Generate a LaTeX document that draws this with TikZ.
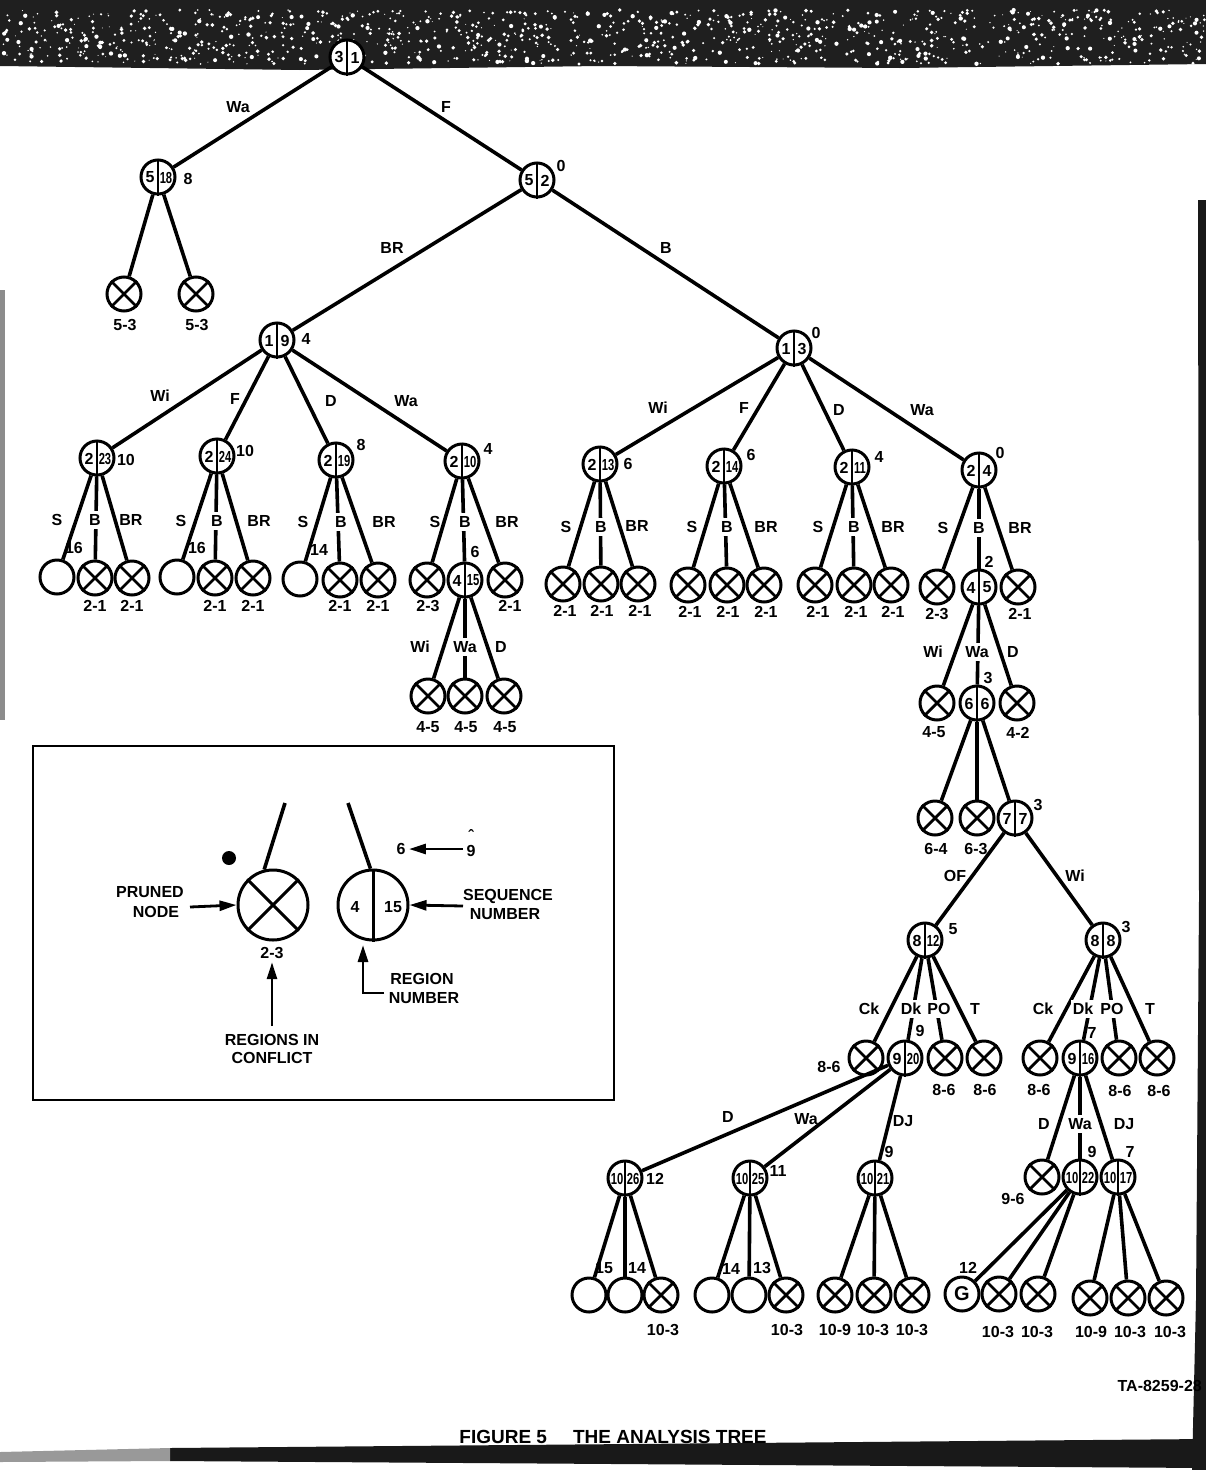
\documentclass[tikz,border=0pt]{standalone}
\usepackage{fontspec}
\setmainfont{Liberation Sans}
\usetikzlibrary{calc,arrows.meta}

% narrow two-digit numbers so that they fit in half a circle
\newcommand\FitNum[1]{\sbox0{#1}\ifdim\wd0>11pt\scalebox{0.7}[1]{#1}\else#1\fi}
% split node: region number left, sequence number right
\newcommand\SplitN[4]{%
  \node[circ] (#1) at (#2) {};
  \draw[divline] (#1.north) -- (#1.south);
  \node[ntxt] (#1-l) at ($(#1)+(-8,0.5)$) {\FitNum{#3}};
  \node[ntxt] (#1-r) at ($(#1)+(8,0.5)$) {\FitNum{#4}};}
% pruned node
\newcommand\XN[2]{%
  \node[circ] (#1) at (#2) {};
  \draw[divline] (#1.north west) -- (#1.south east) (#1.north east) -- (#1.south west);}
% open (unexpanded) node
\newcommand\ON[2]{\node[circ] (#1) at (#2) {};}
\newcounter{lblc}
\newcommand\EL[2]{\stepcounter{lblc}\node[lab] (lb\arabic{lblc}) at (#1) {#2};}
\newcommand\EM[2]{\stepcounter{lblc}\node[elab] (lb\arabic{lblc}) at (#1) {#2};}

\begin{document}
\begin{tikzpicture}[x=1pt,y=-1pt,
  every node/.style={font=\fontsize{16}{18}\selectfont\bfseries},
  edge/.style={line width=3.6pt},
  circ/.style={circle,draw,line width=3pt,minimum size=34pt,inner sep=0pt,fill=white},
  divline/.style={line width=2.8pt},
  lab/.style={inner sep=1pt},
  elab/.style={fill=white,inner xsep=1.5pt,inner ysep=3.5pt},
  ntxt/.style={font=\fontsize{16}{17}\selectfont\bfseries,inner sep=0pt},
  arr/.style={line width=2.8pt,-{Triangle[length=17pt,width=10pt]}}
]
\useasboundingbox (0,0) rectangle (1206,1470);
\fill[white] (0,0) rectangle (1206,1470);

% ---- dark scanned border at the top
\fill[black!88] (0,0) -- (1206,0) -- (1206,64) -- (900,68) -- (600,66) -- (300,70) -- (0,66) -- cycle;
\pgfmathsetseed{4242}
\foreach \i in {1,...,1100}{
  \pgfmathsetmacro{\rx}{rnd*1206}
  \pgfmathsetmacro{\ry}{10+rnd*54}
  \pgfmathsetmacro{\rr}{0.5+rnd*1.7}
  \fill[white] (\rx,\ry) circle[radius=\rr pt];
}
% ---- dark edges at right, left and bottom
\fill[black!90] (1198,200) -- (1206,200) -- (1206,1470) -- (1192,1470) -- (1196,1300) -- (1199,900) -- cycle;
\fill[black!45] (0,290) rectangle (5,720);

% ================= tree =================
\SplitN{root}{347,57}{3}{1}
\SplitN{A}{158,177}{5}{18}
\SplitN{B}{537,180}{5}{2}
\XN{A1}{124,294} \XN{A2}{196,294}
\SplitN{C}{277,340}{1}{9}
\SplitN{D}{794,348}{1}{3}

% region 2 under 1|9
\SplitN{c1}{97,458}{2}{23}
\SplitN{c2}{217,456}{2}{24}
\SplitN{c3}{336,460}{2}{19}
\SplitN{c4}{462,461}{2}{10}
\ON{c1s}{57,577} \XN{c1b}{95,578} \XN{c1r}{132,578}
\ON{c2s}{177,577} \XN{c2b}{215,578} \XN{c2r}{253,578}
\ON{c3s}{300,579} \XN{c3b}{340,580} \XN{c3r}{378,580}
\XN{c4s}{427,580} \SplitN{c4b}{465,580}{4}{15} \XN{c4r}{505,580}
\XN{c4bi}{428,696} \XN{c4ba}{465,696} \XN{c4bd}{504,696}

% region 2 under 1|3
\SplitN{d1}{600,464}{2}{13}
\SplitN{d2}{724,466}{2}{14}
\SplitN{d3}{852,467}{2}{11}
\SplitN{d4}{979,470}{2}{4}
\XN{d1s}{563,584} \XN{d1b}{601,584} \XN{d1r}{638,584}
\XN{d2s}{688,585} \XN{d2b}{727,585} \XN{d2r}{764,585}
\XN{d3s}{815,585} \XN{d3b}{854,585} \XN{d3r}{891,585}
\XN{d4s}{937,587} \SplitN{d4b}{979,587}{4}{5} \XN{d4r}{1018,587}
\XN{d4bi}{937,703} \SplitN{d4ba}{977,703}{6}{6} \XN{d4bd}{1017,703}
\XN{e1}{935,818} \XN{e2}{977,818} \SplitN{e3}{1015,818}{7}{7}
\SplitN{f1}{925,940}{8}{12}
\SplitN{f2}{1103,940}{8}{8}
\XN{f1c}{866,1058} \SplitN{f1d}{905,1058}{9}{20} \XN{f1p}{945,1058} \XN{f1t}{984,1058}
\XN{f2c}{1040,1058} \SplitN{f2d}{1080,1058}{9}{16} \XN{f2p}{1119,1058} \XN{f2t}{1157,1058}
\SplitN{g1}{625,1178}{10}{26}
\SplitN{g2}{750,1178}{10}{25}
\SplitN{g3}{875,1178}{10}{21}
\ON{g1a}{589,1295} \ON{g1b}{625,1295} \XN{g1c}{661,1295}
\ON{g2a}{712,1295} \ON{g2b}{749,1295} \XN{g2c}{786,1295}
\XN{g3a}{835,1295} \XN{g3b}{874,1295} \XN{g3c}{912,1295}
\XN{h1}{1042,1177} \SplitN{h2}{1080,1177}{10}{22} \SplitN{h3}{1118,1177}{10}{17}
\node[circ,font=\fontsize{20}{20}\selectfont\bfseries] (h2a) at (962,1294) {G};
\XN{h2b}{999,1294} \XN{h2c}{1038,1294}
\XN{h3a}{1090,1298} \XN{h3b}{1128,1298} \XN{h3c}{1166,1298}

% connectors
\foreach \p/\c in {root/A,root/B,A/A1,A/A2,B/C,B/D,
  C/c1,C/c2,C/c3,C/c4,D/d1,D/d2,D/d3,D/d4,
  c1/c1s,c1/c1b,c1/c1r,c2/c2s,c2/c2b,c2/c2r,c3/c3s,c3/c3b,c3/c3r,c4/c4s,c4/c4b,c4/c4r,
  c4b/c4bi,c4b/c4ba,c4b/c4bd,
  d1/d1s,d1/d1b,d1/d1r,d2/d2s,d2/d2b,d2/d2r,d3/d3s,d3/d3b,d3/d3r,d4/d4s,d4/d4b,d4/d4r,
  d4b/d4bi,d4b/d4ba,d4b/d4bd,d4ba/e1,d4ba/e2,d4ba/e3,e3/f1,e3/f2,
  f1/f1c,f1/f1d,f1/f1p,f1/f1t,f2/f2c,f2/f2d,f2/f2p,f2/f2t,
  f1d/g1,f1d/g2,f1d/g3,g1/g1a,g1/g1b,g1/g1c,g2/g2a,g2/g2b,g2/g2c,g3/g3a,g3/g3b,g3/g3c,
  f2d/h1,f2d/h2,f2d/h3,h2/h2a,h2/h2b,h2/h2c,h3/h3a,h3/h3b,h3/h3c}
  \draw[edge] (\p) -- (\c);

% branch labels
\EL{238,107}{Wa} \EL{446,107}{F} \EL{392,248}{BR} \EL{666,248}{B}
\EL{160,396}{Wi} \EL{235,399}{F} \EL{331,401}{D} \EL{406,401}{Wa}
\EL{658,408}{Wi} \EL{744,408}{F} \EL{839,410}{D} \EL{922,410}{Wa}
\EL{57,520}{S} \EM{95,520}{B} \EL{131,520}{BR}
\EL{181,521}{S} \EM{217,521}{B} \EL{259,521}{BR}
\EL{303,522}{S} \EM{341,522}{B} \EL{384,522}{BR}
\EL{435,522}{S} \EM{465,522}{B} \EL{507,522}{BR}
\EL{566,527}{S} \EM{601,527}{B} \EL{637,526}{BR}
\EL{692,527}{S} \EM{727,527}{B} \EL{766,527}{BR}
\EL{818,527}{S} \EM{854,527}{B} \EL{893,527}{BR}
\EL{943,528}{S} \EM{979,528}{B} \EL{1020,528}{BR}
\EL{420,647}{Wi} \EM{465,647}{Wa} \EL{501,647}{D}
\EL{933,652}{Wi} \EM{977,652}{Wa} \EL{1013,652}{D}
\EL{955,876}{OF} \EL{1075,876}{Wi}
\EL{869,1009}{Ck} \EM{911,1009}{Dk} \EM{939,1009}{PO} \EL{975,1009}{T}
\EL{1043,1009}{Ck} \EM{1083,1009}{Dk} \EM{1112,1009}{PO} \EL{1150,1009}{T}
\EL{728,1117}{D} \EL{806,1119}{Wa} \EL{903,1121}{DJ}
\EL{1044,1124}{D} \EM{1080,1124}{Wa} \EL{1124,1124}{DJ}

% cost numbers beside nodes
\EL{188,179}{8} \EL{561,166}{0} \EL{306,339}{4} \EL{816,333}{0}
\EL{126,460}{10} \EL{245,451}{10} \EL{361,445}{8} \EL{488,449}{4}
\EL{628,464}{6} \EL{751,455}{6} \EL{879,457}{4} \EL{1000,453}{0}
\EL{74,548}{16} \EL{197,548}{16} \EL{319,550}{14} \EL{475,552}{6}
\EL{989,562}{2} \EL{988,678}{3} \EL{1038,805}{3}
\EL{953,929}{5} \EL{1126,927}{3} \EL{920,1031}{9} \EL{1092,1033}{7}
\EL{655,1179}{12} \EL{778,1171}{11} \EL{889,1152}{9}
\EL{1092,1152}{9} \EL{1130,1152}{7}
\EL{604,1268}{15} \EL{637,1268}{14} \EL{731,1269}{14} \EL{762,1268}{13} \EL{968,1268}{12}

% regions in conflict
\EL{125,325}{5-3} \EL{197,325}{5-3}
\EL{95,606}{2-1} \EL{132,606}{2-1} \EL{215,606}{2-1} \EL{253,606}{2-1}
\EL{340,606}{2-1} \EL{378,606}{2-1} \EL{428,606}{2-3} \EL{510,606}{2-1}
\EL{428,727}{4-5} \EL{466,727}{4-5} \EL{505,727}{4-5}
\EL{565,611}{2-1} \EL{602,611}{2-1} \EL{640,611}{2-1}
\EL{690,612}{2-1} \EL{728,612}{2-1} \EL{766,612}{2-1}
\EL{818,612}{2-1} \EL{856,612}{2-1} \EL{893,612}{2-1}
\EL{937,614}{2-3} \EL{1020,614}{2-1}
\EL{934,732}{4-5} \EL{1018,733}{4-2}
\EL{936,849}{6-4} \EL{976,849}{6-3}
\EL{829,1067}{8-6} \EL{944,1090}{8-6} \EL{985,1090}{8-6}
\EL{1039,1090}{8-6} \EL{1120,1091}{8-6} \EL{1159,1091}{8-6}
\EL{1013,1199}{9-6}
\EL{663,1330}{10-3} \EL{787,1330}{10-3}
\EL{835,1330}{10-9} \EL{873,1330}{10-3} \EL{912,1330}{10-3}
\EL{998,1332}{10-3} \EL{1037,1332}{10-3}
\EL{1091,1332}{10-9} \EL{1130,1332}{10-3} \EL{1170,1332}{10-3}

\node[anchor=east,inner sep=0pt] (ta) at (1202,1386) {TA-8259-28};

% ================= key =================
\draw[line width=2.6pt] (33,746) rectangle (614,1100);
\node[circ,minimum size=70pt] (kx) at (273,905) {};
\draw[divline,line width=3pt] (kx.north west) -- (kx.south east) (kx.north east) -- (kx.south west);
\node[circ,minimum size=70pt] (ks) at (373,905) {};
\draw[divline,line width=3pt] (ks.north) -- (ks.south);
\node[ntxt] (ksl) at (355,907) {4};
\node[ntxt] (ksr) at (393,907) {15};
\coordinate (kxt) at (285,803);
\coordinate (kst) at (348,803);
\draw[edge] (kx.104) -- (kxt);
\draw[edge] (ks.94) -- (kst);
\node[circle,fill,minimum size=14pt,inner sep=0pt] (kdot) at (229,858) {};

\node (kp1) at (150,892) {PRUNED};
\node (kp2) at (156,912) {NODE};
\coordinate (kpa) at (190,907);
\draw[arr] (kpa) -- (kx.west);

\node (k23) at (272,953) {2-3};
\coordinate (kca) at (272,1026);
\draw[arr] (kca) -- (k23.south);
\node (kc1) at (272,1040) {REGIONS IN};
\node (kc2) at (272,1058) {CONFLICT};

\node (ks1) at (508,896) {SEQUENCE};
\node (ks2) at (505,914) {NUMBER};
\coordinate (ksa) at (463,906);
\draw[arr] (ksa) -- (ks.east);

\node (ksix) at (401,849) {6};
\node (knine) at (471,851) {9};
\node[inner sep=0pt] (khat) at (471,836) {ˆ};
\coordinate (kna) at (463,849);
\draw[arr] (kna) -- (ksix.east);

\coordinate (kr1) at (384,993);
\coordinate (kr2) at (363,993);
\coordinate (kr3) at (363,945);
\draw[arr] (kr1) -- (kr2) -- (kr3);
\node (kr4) at (422,979) {REGION};
\node (kr5) at (424,998) {NUMBER};

% ================= caption =================
\node[anchor=base,font=\fontsize{19}{21}\selectfont\bfseries] (cap) at (613,1443) {FIGURE 5\hspace{26pt}THE ANALYSIS TREE};
\fill[black!90] (170,1448) -- (1206,1439) -- (1206,1468) -- (170,1461) -- cycle;
\fill[black!40] (0,1452) -- (170,1448) -- (170,1461) -- (0,1462) -- cycle;
\end{tikzpicture}
\end{document}
